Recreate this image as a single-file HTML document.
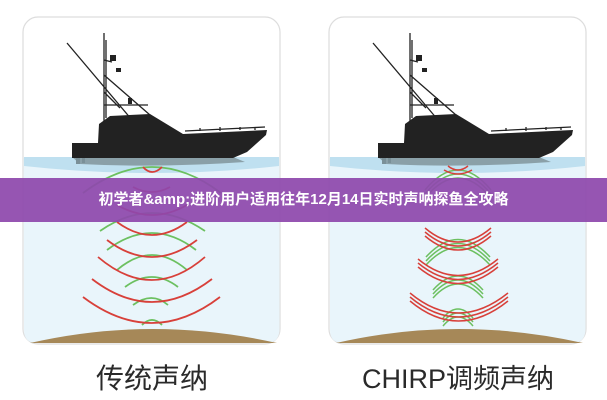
<!DOCTYPE html>
<html><head><meta charset="utf-8"><style>
html,body{margin:0;padding:0;background:#fff;width:607px;height:400px;overflow:hidden;position:relative}
svg{position:absolute;left:0;top:0}
.banner{position:absolute;left:0;top:178px;width:607px;height:44px;background:rgba(142,72,172,0.93);color:#fff;font:bold 15px "Liberation Sans","Noto Sans CJK SC",sans-serif;text-align:center;line-height:44px}
.lbl{position:absolute;top:357px;font-family:"Liberation Sans","Noto Sans CJK SC",sans-serif;font-size:28px;color:#2a2a2a;text-align:center;width:300px}
</style></head><body>
<svg width="607" height="400" viewBox="0 0 607 400">
<defs>
<g id="boat">
<rect x="23" y="17" width="257" height="327" rx="15" fill="#fff" stroke="#ddd" stroke-width="1.2"/>
<path d="M23.6,158 H279.4 V330 Q279,343 266,343 H37 Q24,343 24,330 Z" fill="#e9f5fb"/>
<path d="M24,157 H279 V166 Q152,180 24,166 Z" fill="#bfe0f0"/>
<path d="M30,343 Q152,315 277,343 Z" fill="#a68858"/>
<path d="M72,157 H233 L245,162 Q160,168 80,164 Z" fill="#8aa0a8"/>
<rect x="76" y="158" width="4" height="6" fill="#7a9098"/>
<rect x="82" y="158" width="3" height="5" fill="#7a9098"/>
<path d="M72,143 H98 L99,124 L110,116 L150,114 L183,134 L267,130 L266,135 L247,152 L233,158 H72 Z" fill="#222"/>
<g stroke="#222" stroke-width="1.3" fill="none">
<path d="M104,33 V122 M106,40 V118 M67,43 L132,120 M104,75 L150,115 M104,60 L112,62 M104,105 H148 M104,92 L120,108 M100,128 V145 M185,131 L265,127 M200,131 V128 M220,131 V127 M240,130 V127 M255,130 V127"/>
</g>
<rect x="110" y="55" width="6" height="6" fill="#222"/>
<rect x="116" y="68" width="5" height="4" fill="#222"/>
<rect x="128" y="98" width="4" height="6" fill="#222"/>
</g>
</defs>
<use href="#boat"/>
<use href="#boat" transform="translate(306,0)"/>
<g fill="none" stroke-width="1.8">
<g stroke="#6cc060">
<path d="M83,193 Q152,141 221,193"/>
<path d="M100,231 Q152,195 205,231"/>
<path d="M107,250 Q152,216 196,250"/>
<path d="M117,270 Q152,240 187,270"/>
<path d="M125,287 Q152,267 178,287"/>
<path d="M133,305 Q152,291 168,305"/>
<path d="M142,325 Q152,315 162,325"/>
</g>
<g stroke="#d8403a">
<path d="M143,167 Q152,177 162,167"/>
<path d="M133,187 Q152,197 170,187"/>
<path d="M117,205 Q152,225 187,205"/>
<path d="M117,222 Q152,248 187,222"/>
<path d="M107,240 Q152,274 197,240"/>
<path d="M98,257 Q152,303 205,257"/>
<path d="M92,279 Q152,325 212,279"/>
<path d="M83,297 Q152,349 220,297"/>
</g>
</g>
<g fill="none" stroke-width="1.5">
<g stroke="#6cc060">
<path d="M425,190 Q458,150 491,190"/><path d="M425,194 Q458,154 491,194"/><path d="M425,198 Q458,158 491,198"/>
<path d="M426,257 Q458,222 490,257"/><path d="M426,261 Q458,226 490,261"/><path d="M426,265 Q458,230 490,265"/>
<path d="M433,290 Q458,262 483,290"/><path d="M433,294 Q458,266 483,294"/><path d="M433,298 Q458,270 483,298"/>
<path d="M443,318 Q458,300 473,318"/><path d="M443,322 Q458,304 473,322"/><path d="M443,326 Q458,308 473,326"/>
</g>
<g stroke="#d8403a">
<path d="M448,166 Q458,174 468,166"/><path d="M444,170 Q458,178 472,170"/>
<path d="M425,228 Q458,256 491,228"/><path d="M425,232 Q458,260 491,232"/><path d="M425,236 Q458,264 491,236"/>
<path d="M418,259 Q458,292 498,259"/><path d="M418,263 Q458,296 498,263"/><path d="M418,267 Q458,300 498,267"/>
<path d="M410,293 Q458,333 508,293"/><path d="M410,297 Q458,337 508,297"/><path d="M410,301 Q458,341 508,301"/>
</g>
</g>
</svg>
<div class="banner">初学者&amp;amp;进阶用户适用往年12月14日实时声呐探鱼全攻略</div>
<div class="lbl" style="left:2px">传统声纳</div>
<div class="lbl" style="left:308px;font-size:27px">CHIRP调频声纳</div>
</body></html>
